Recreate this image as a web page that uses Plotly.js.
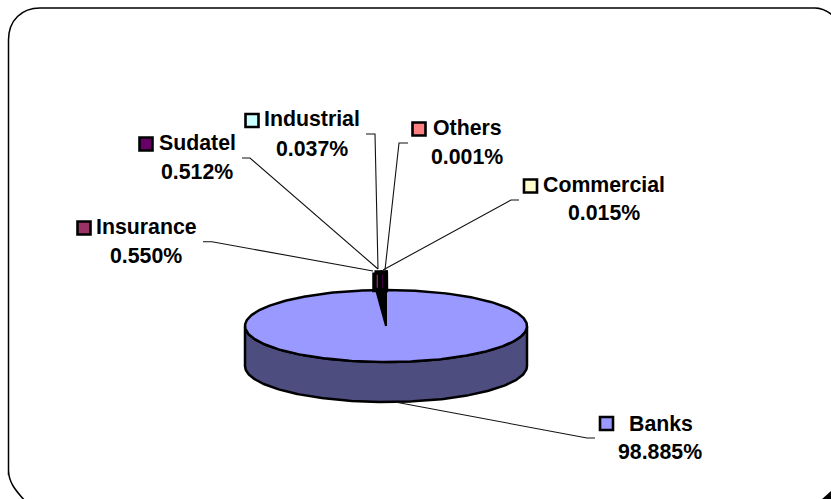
<!DOCTYPE html>
<html><head><meta charset="utf-8">
<script src="https://cdn.plot.ly/plotly-3.0.1.min.js"></script>
<style>html,body{margin:0;padding:0;background:#fff}#c{width:831px;height:499px}</style>
</head><body><div id="c"></div>
<script>
// Data, in clockwise order from the top of the pie
const categories = ['Banks','Insurance','Sudatel','Industrial','Others','Commercial'];
const shares = [98.885,0.550,0.512,0.037,0.001,0.015];
const sliceColors = ['#9999FF','#993366','#660066','#CCFFFF','#FF8080','#FFFFCC'];

// Pie geometry in pixels
const pie = {cx:386, cy:326, rx:141, ry:36, depth:40, wallRx:165, wallTop:272.5, wallBottom:290};
const total = shares.reduce((a,b)=>a+b,0);
const toDeg = v => v/total*360;
const rad = d => d*Math.PI/180;
const ex = (d,r) => pie.cx + (r||pie.rx)*Math.sin(rad(d));
const ey = d => pie.cy - pie.ry*Math.cos(rad(d));
function arc(a,b,dy,step){
  const xs=[],ys=[]; const n=Math.max(2,Math.ceil(Math.abs(b-a)/(step||1)));
  for(let i=0;i<=n;i++){const t=a+(b-a)*i/n; xs.push(ex(t)); ys.push(ey(t)+(dy||0));}
  return [xs,ys];
}
const bg = {mode:'lines',fill:'toself',hoverinfo:'skip',showlegend:false};
const traces=[];
// Side wall of the front half
{
  const [x1,y1]=arc(90,270,0), [x2,y2]=arc(270,90,pie.depth);
  traces.push({...bg,x:x1.concat(x2,[x1[0]]),y:y1.concat(y2,[y1[0]]),fillcolor:'#4D4D80',line:{color:'#000',width:2.5}});
}
// Top surface: Banks slice, and the dark notch left by the small slices
const bankEnd = toDeg(shares[0]);
{
  const [x,y]=arc(0,360,0);
  traces.push({...bg,x,y,fillcolor:sliceColors[0],line:{color:'#000',width:2.5}});
  const [nx,ny]=arc(bankEnd,360,0,0.5);
  traces.push({...bg,x:[pie.cx].concat(nx,[pie.cx]),y:[pie.cy].concat(ny,[pie.cy]),fillcolor:'#000',line:{color:'#000',width:2}});
}
// Upright walls of the small slices
{
  let a=bankEnd;
  for(let i=1;i<shares.length;i++){
    const b=a+toDeg(shares[i]);
    const xa=ex(a,pie.wallRx), xb=ex(b,pie.wallRx);
    traces.push({...bg,x:[xa,xb,xb,xa,xa],y:[pie.wallTop,pie.wallTop,pie.wallBottom,pie.wallBottom,pie.wallTop],
      fillcolor:sliceColors[i],line:{color:'#000',width:4.4}});
    a=b;
  }
}
// Label placement in pixels, same order as categories
const keyX=[606.5,84,146,252,419,530.5], keyY=[423.5,228,144,120.5,129,186];
const nameX=[660.5,146.5,197,312,467,604], nameY=[424,227,143,119,128,185];
const pctX=[660,146,197,312,467,604], pctY=[452,256,172,149,157,213];
traces.push({type:'scatter',mode:'markers',x:keyX,y:keyY,hoverinfo:'skip',showlegend:false,
  marker:{symbol:'square',size:13,color:sliceColors,line:{color:'#000',width:2.6}}});
const leaders=[
 'M395 402 L587 438 L595 438',
 'M203 241.7 L212 241.7 L373 271',
 'M242 158 L250 158 L378 269',
 'M366 134 L375 134 L378 269',
 'M408 143 L399 143 L385 270',
 'M519 200 L511 200 L383 270'
];
const font={family:'"Liberation Sans",Arial,sans-serif',size:21.3,color:'#000'};
const annotations=[];
categories.forEach((c,i)=>{
  annotations.push({x:nameX[i],y:nameY[i],text:'<b>'+c+'</b>',showarrow:false,xanchor:'center',yanchor:'middle',font});
  annotations.push({x:pctX[i],y:pctY[i],text:'<b>'+shares[i].toFixed(3)+'%</b>',showarrow:false,xanchor:'center',yanchor:'middle',font});
});
const shapes=leaders.map(p=>({type:'path',path:p,line:{color:'#111',width:1.1},layer:'above'}));
shapes.push({type:'path',layer:'below',line:{color:'#000',width:1.5},
  path:'M8.5 475 L8.5 40 C8.5 20 22 8 40 8 L815 8 C823 8 830 12 838 20 M8.5 470 C8.5 482 15 490 26 502'});
shapes.push({type:'path',layer:'below',line:{color:'#000',width:0},fillcolor:'#000',path:'M821 500 L831 491 L831 500 Z'});
const ax={range:[0,831],visible:false,fixedrange:true};
Plotly.newPlot('c',traces,{
  width:831,height:499,margin:{l:0,r:0,t:0,b:0},paper_bgcolor:'#fff',plot_bgcolor:'#fff',showlegend:false,
  xaxis:ax,yaxis:{...ax,range:[499,0]},shapes,annotations
},{displayModeBar:false,staticPlot:true});
</script></body></html>
